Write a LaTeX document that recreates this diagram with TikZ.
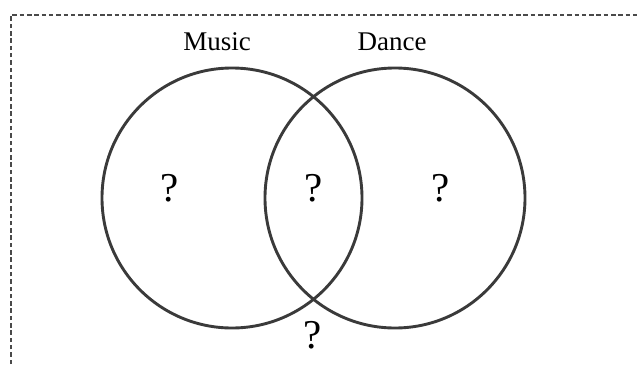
\documentclass[tikz,border=0pt]{standalone}
\usepackage{fontspec}
\setmainfont{Liberation Serif}
\usepackage{tikz}
\usetikzlibrary{positioning, calc}

\definecolor{linecol}{HTML}{3A3A3A}
\definecolor{framecol}{HTML}{4A4A4A}

\begin{document}
\begin{tikzpicture}[x=1pt,y=-1pt,
    setlabel/.style={font=\fontsize{27}{30}\selectfont, inner sep=0pt},
    qmark/.style={font=\fontsize{41}{44}\selectfont, inner sep=0pt},
    setcircle/.style={draw=linecol, line width=2.9pt}]
  \def\r{130}     % raio dos círculos
  \def\cy{198}    % altura dos centros

  \useasboundingbox (0,0) rectangle (639,364);

  % ---------- moldura tracejada ----------
  \draw[framecol, line width=2.6pt, dash pattern=on 4.5pt off 2.8pt]
    (11,364) -- (11,15) -- (645,15);

  % ---------- conjuntos ----------
  \draw[setcircle] (232,\cy) circle (\r);
  \draw[setcircle] (395,\cy) circle (\r);

  \node[setlabel, anchor=base] (music) at (217,50) {Music};
  \node[setlabel, anchor=base] (dance) at (392,50) {Dance};

  % ---------- regiões ----------
  \node[qmark] (onlymusic) at (170,188) {?};
  \node[qmark] (both)      at (314,188) {?};
  \node[qmark] (onlydance) at (441,188) {?};
  \node[qmark] (neither)   at (313,335) {?};
\end{tikzpicture}
\end{document}
